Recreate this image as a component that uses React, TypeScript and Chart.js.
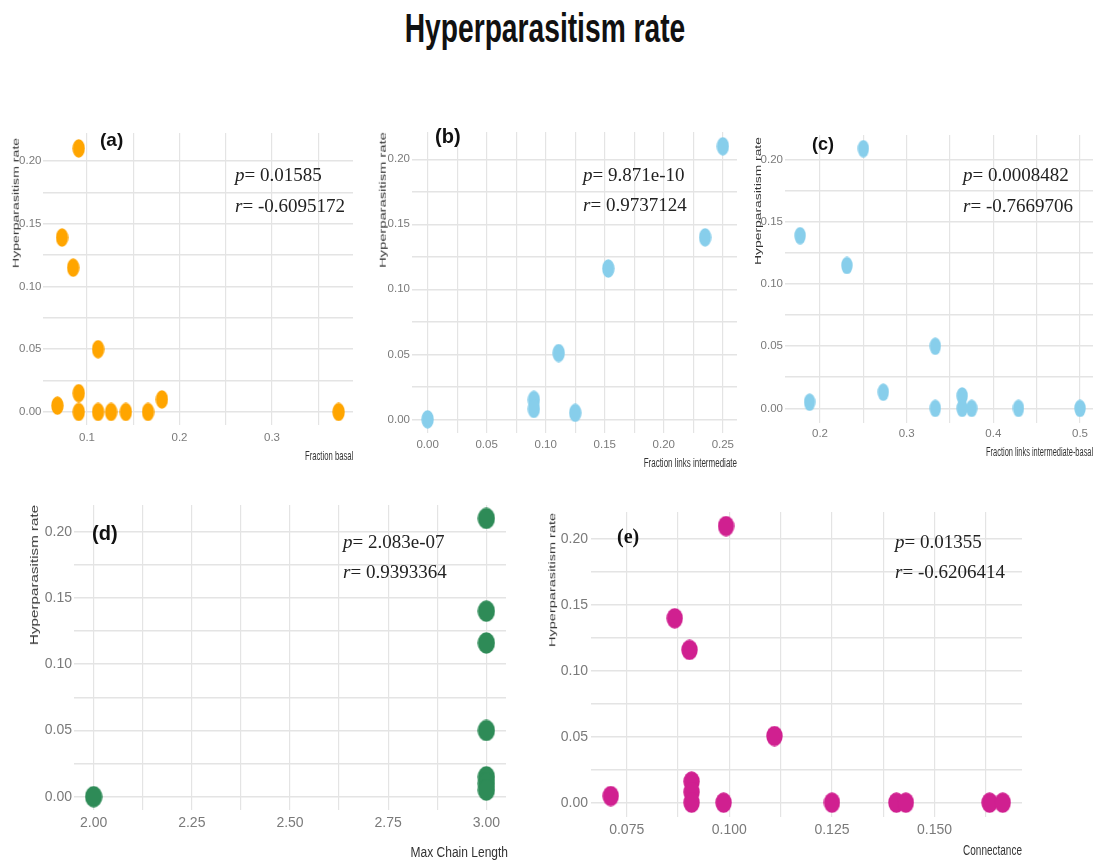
import React, { useEffect, useRef } from "react";
import { Chart, registerables } from "chart.js";

Chart.register(...registerables);

// ---------------- DATA ----------------
// (a) Fraction basal vs hyperparasitism rate
const fractionBasal = [0.091, 0.073, 0.085, 0.112, 0.068, 0.091, 0.091, 0.112, 0.126, 0.142, 0.166, 0.181, 0.372];
const rateA = [0.21, 0.139, 0.115, 0.05, 0.005, 0.015, 0.0, 0.0, 0.0, 0.0, 0.0, 0.01, 0.0];

// (b) Fraction links intermediate
const fractionLinksIntermediate = [0.25, 0.235, 0.153, 0.111, 0.09, 0.09, 0.125, 0.0];
const rateB = [0.21, 0.14, 0.116, 0.051, 0.015, 0.008, 0.005, 0.0];

// (c) Fraction links intermediate-basal
const fractionLinksIntBasal = [0.25, 0.177, 0.231, 0.333, 0.188, 0.273, 0.333, 0.364, 0.364, 0.375, 0.429, 0.5];
const rateC = [0.209, 0.139, 0.115, 0.05, 0.005, 0.013, 0.0, 0.01, 0.0, 0.0, 0.0, 0.0];

// (d) Max chain length
const maxChainLength = [3, 3, 3, 3, 3, 3, 3, 2];
const rateD = [0.21, 0.14, 0.116, 0.05, 0.015, 0.01, 0.005, 0.0];

// (e) Connectance
const connectance = [0.0992, 0.0867, 0.0903, 0.111, 0.0711, 0.0908, 0.0908, 0.0908, 0.0986, 0.125, 0.1407, 0.143, 0.1634, 0.1666];
const rateE = [0.21, 0.14, 0.116, 0.0506, 0.005, 0.016, 0.008, 0.0, 0.0, 0.0, 0.0, 0.0, 0.0, 0.0];

// tick labels
const yTickLabels = ["0.00", "0.05", "0.10", "0.15", "0.20"];
const xTicksA = ["0.1", "0.2", "0.3"];
const xTicksB = ["0.00", "0.05", "0.10", "0.15", "0.20", "0.25"];
const xTicksC = ["0.2", "0.3", "0.4", "0.5"];
const xTicksD = ["2.00", "2.25", "2.50", "2.75", "3.00"];
const xTicksE = ["0.075", "0.100", "0.125", "0.150"];

// statistics text
const panelLetters = ["(a)", "(b)", "(c)", "(d)", "(e)"];
const pValues = ["0.01585", "9.871e-10", "0.0008482", "2.083e-07", "0.01355"];
const rValues = ["-0.6095172", "0.9737124", "-0.7669706", "0.9393364", "-0.6206414"];
const xTitles = ["Fraction basal", "Fraction links intermediate", "Fraction links intermediate-basal", "Max Chain Length", "Connectance"];
const yTitle = "Hyperparasitism rate";
const mainTitle = "Hyperparasitism rate";

// ---------------- STYLE / LAYOUT ----------------
const TICK_FONT = "'Liberation Sans', Arial, sans-serif";
const TICK_COLOR = "#7a7a7a";
const GRID_COLOR = "#e4e4e4";
const PAD_T = 14;
const PAD_R = 26;
const PAD_B = 40;

type Rect = { L: number; T: number; R: number; B: number };
type PanelCfg = {
  xs: number[];
  ys: number[];
  xLabels: string[];
  color: string;
  plot: Rect;
  xMin: number;
  xMax: number;
  yMin: number;
  yMax: number;
  tick: number;
  xPad: number;
  yPad: number;
  padL: number;
  dot: [number, number];
};

const panels: PanelCfg[] = [
  { xs: fractionBasal, ys: rateA, xLabels: xTicksA, color: "#FFA500", plot: { L: 43, T: 133, R: 353, B: 425 }, xMin: 0.0524, xMax: 0.3876, yMin: -0.0104, yMax: 0.2223, tick: 11.5, xPad: 5.5, yPad: 1.5, padL: 43, dot: [13, 19] },
  { xs: fractionLinksIntermediate, ys: rateB, xLabels: xTicksB, color: "#87CEEB", plot: { L: 412, T: 132, R: 737, B: 433 }, xMin: -0.0132, xMax: 0.262, yMin: -0.0105, yMax: 0.221, tick: 11.5, xPad: 5, yPad: 2, padL: 40, dot: [13, 19] },
  { xs: fractionLinksIntBasal, ys: rateC, xLabels: xTicksC, color: "#87CEEB", plot: { L: 785, T: 135, R: 1093, B: 423 }, xMin: 0.1596, xMax: 0.515, yMin: -0.0118, yMax: 0.22, tick: 11.5, xPad: 4, yPad: 2, padL: 40, dot: [12, 18] },
  { xs: maxChainLength, ys: rateD, xLabels: xTicksD, color: "#2E8B57", plot: { L: 74, T: 505, R: 506, B: 810 }, xMin: 1.95, xMax: 3.05, yMin: -0.01, yMax: 0.2201, tick: 14, xPad: 5, yPad: 2, padL: 50, dot: [18, 22] },
  { xs: connectance, ys: rateE, xLabels: xTicksE, color: "#D02090", plot: { L: 591, T: 512, R: 1022, B: 817 }, xMin: 0.0663, xMax: 0.1713, yMin: -0.0109, yMax: 0.2207, tick: 14, xPad: 5, yPad: 3, padL: 45, dot: [17, 21] },
];

// major labels + minor gridlines half-way between them
function gridValues(labels: string[], min: number, max: number): number[] {
  const vals = labels.map(Number);
  const half = (vals[1] - vals[0]) / 2;
  const out: number[] = [];
  for (let k = -2; k <= vals.length * 2 + 2; k++) {
    const v = +(vals[0] + k * half).toFixed(6);
    if (v >= min - 1e-9 && v <= max + 1e-9) out.push(v);
  }
  return out;
}

function labelFor(labels: string[], v: number): string {
  const hit = labels.find((l) => Math.abs(Number(l) - v) < 1e-7);
  return hit ?? "";
}

function ellipseImage(w: number, h: number, color: string): HTMLCanvasElement {
  const c = document.createElement("canvas");
  c.width = w;
  c.height = h;
  const ctx = c.getContext("2d")!;
  ctx.fillStyle = color;
  ctx.beginPath();
  ctx.ellipse(w / 2, h / 2, w / 2 - 0.3, h / 2 - 0.3, 0, 0, Math.PI * 2);
  ctx.fill();
  return c;
}

function ScatterPanel({ cfg }: { cfg: PanelCfg }) {
  const ref = useRef<HTMLCanvasElement | null>(null);
  const w = cfg.padL + (cfg.plot.R - cfg.plot.L) + PAD_R;
  const h = PAD_T + (cfg.plot.B - cfg.plot.T) + PAD_B;

  useEffect(() => {
    if (!ref.current) return;
    const xVals = gridValues(cfg.xLabels, cfg.xMin, cfg.xMax);
    const yVals = gridValues(yTickLabels, cfg.yMin, cfg.yMax);
    const chart = new Chart(ref.current, {
      type: "scatter",
      data: {
        datasets: [
          {
            data: cfg.xs.map((x, i) => ({ x, y: cfg.ys[i] })),
            pointStyle: ellipseImage(cfg.dot[0], cfg.dot[1], cfg.color) as any,
            pointRadius: 6,
            backgroundColor: cfg.color,
            borderWidth: 0,
            clip: false as any,
          },
        ],
      },
      options: {
        animation: false,
        responsive: false,
        maintainAspectRatio: false,
        devicePixelRatio: 1,
        events: [],
        layout: { padding: { left: 0, top: PAD_T, right: PAD_R, bottom: 0 } },
        plugins: { legend: { display: false }, tooltip: { enabled: false }, title: { display: false } },
        scales: {
          x: {
            type: "linear",
            position: "bottom",
            min: cfg.xMin,
            max: cfg.xMax,
            afterBuildTicks: (s: any) => {
              s.ticks = xVals.map((v) => ({ value: v }));
            },
            afterFit: (s: any) => {
              s.height = PAD_B;
            },
            border: { display: false },
            grid: { color: GRID_COLOR, lineWidth: 1.2, drawTicks: false },
            ticks: {
              autoSkip: false,
              maxRotation: 0,
              minRotation: 0,
              padding: cfg.xPad,
              color: TICK_COLOR,
              font: { family: TICK_FONT, size: cfg.tick },
              callback: (v: any) => labelFor(cfg.xLabels, Number(v)),
            },
          },
          y: {
            type: "linear",
            position: "left",
            min: cfg.yMin,
            max: cfg.yMax,
            afterBuildTicks: (s: any) => {
              s.ticks = yVals.map((v) => ({ value: v }));
            },
            afterFit: (s: any) => {
              s.width = cfg.padL;
            },
            border: { display: false },
            grid: { color: GRID_COLOR, lineWidth: 1.6, drawTicks: false },
            ticks: {
              autoSkip: false,
              padding: cfg.yPad,
              color: TICK_COLOR,
              font: { family: TICK_FONT, size: cfg.tick },
              callback: (v: any) => labelFor(yTickLabels, Number(v)),
            },
          },
        },
      },
    } as any);
    return () => chart.destroy();
  }, [cfg]);

  return (
    <canvas
      ref={ref}
      width={w}
      height={h}
      style={{ position: "absolute", left: cfg.plot.L - cfg.padL, top: cfg.plot.T - PAD_T, width: w, height: h }}
    />
  );
}

// overlay text placement
const statPos = [
  { left: 235, base: [181, 212] },
  { left: 583, base: [181, 211] },
  { left: 963, base: [181, 212] },
  { left: 343, base: [548, 578] },
  { left: 895, base: [548, 578] },
];
const letterPos = [
  { left: 100, top: 132, size: 19, serif: false },
  { left: 435, top: 128, size: 20, serif: false },
  { left: 812, top: 137, size: 18, serif: false },
  { left: 92, top: 525, size: 20, serif: false },
  { left: 617, top: 528, size: 20, serif: true },
];
const yTitlePos = [
  { cx: 15.5, cy: 203, f: 8.5, k: 1.66 },
  { cx: 383, cy: 200, f: 8.5, k: 1.73 },
  { cx: 758, cy: 201, f: 8.5, k: 1.63 },
  { cx: 34.5, cy: 575, f: 10, k: 1.52 },
  { cx: 551.5, cy: 580, f: 9.5, k: 1.53 },
];
const xTitlePos = [
  { right: 353, cy: 457, f: 8, sx: 0.96, sy: 1.6 },
  { right: 737, cy: 464, f: 8, sx: 1.0, sy: 1.5 },
  { right: 1093, cy: 452.5, f: 8, sx: 0.93, sy: 1.5 },
  { right: 508, cy: 851.5, f: 12, sx: 1.0, sy: 1.15 },
  { right: 1022, cy: 850, f: 10, sx: 1.0, sy: 1.5 },
];

const SERIF = "'Liberation Serif', 'Times New Roman', serif";
const SANS = "'Liberation Sans', Arial, sans-serif";

export default function App() {
  return (
    <div style={{ position: "absolute", left: 0, top: 0, width: 1096, height: 864, background: "#ffffff", overflow: "hidden" }}>
      {panels.map((p, i) => (
        <ScatterPanel key={i} cfg={p} />
      ))}

      {/* main title */}
      <div
        style={{
          position: "absolute",
          left: 545,
          top: 13,
          fontFamily: SANS,
          fontWeight: 700,
          fontSize: 30,
          lineHeight: "30px",
          whiteSpace: "nowrap",
          color: "#111",
          transform: "translateX(-50%) scale(0.94, 1.35)",
        }}
      >
        {mainTitle}
      </div>

      {/* panel letters */}
      {letterPos.map((l, i) => (
        <div
          key={"l" + i}
          style={{
            position: "absolute",
            left: l.left,
            top: l.top - 2.3,
            fontFamily: l.serif ? SERIF : SANS,
            fontWeight: 700,
            fontSize: l.size,
            lineHeight: l.size + "px",
            color: "#111",
            whiteSpace: "nowrap",
          }}
        >
          {panelLetters[i]}
        </div>
      ))}

      {/* statistics */}
      {statPos.map((s, i) => (
        <React.Fragment key={"s" + i}>
          <div style={{ position: "absolute", left: s.left, top: s.base[0] - 16, fontFamily: SERIF, fontSize: 19, lineHeight: "19px", color: "#222", whiteSpace: "nowrap" }}>
            <i>p</i>= {pValues[i]}
          </div>
          <div style={{ position: "absolute", left: s.left, top: s.base[1] - 16, fontFamily: SERIF, fontSize: 19, lineHeight: "19px", color: "#222", whiteSpace: "nowrap" }}>
            <i>r</i>= {rValues[i]}
          </div>
        </React.Fragment>
      ))}

      {/* y axis titles */}
      {yTitlePos.map((t, i) => (
        <div
          key={"y" + i}
          style={{
            position: "absolute",
            left: t.cx,
            top: t.cy,
            fontFamily: SANS,
            fontSize: t.f,
            lineHeight: t.f + "px",
            color: "#333",
            whiteSpace: "nowrap",
            transform: `translate(-50%, -50%) rotate(-90deg) scaleX(${t.k})`,
          }}
        >
          {yTitle}
        </div>
      ))}

      {/* x axis titles */}
      {xTitlePos.map((t, i) => (
        <div
          key={"x" + i}
          style={{
            position: "absolute",
            right: 1096 - t.right,
            top: t.cy,
            fontFamily: SANS,
            fontSize: t.f,
            lineHeight: t.f + "px",
            color: "#333",
            whiteSpace: "nowrap",
            transformOrigin: "right center",
            transform: `translateY(-50%) scale(${t.sx}, ${t.sy})`,
          }}
        >
          {xTitles[i]}
        </div>
      ))}
    </div>
  );
}
